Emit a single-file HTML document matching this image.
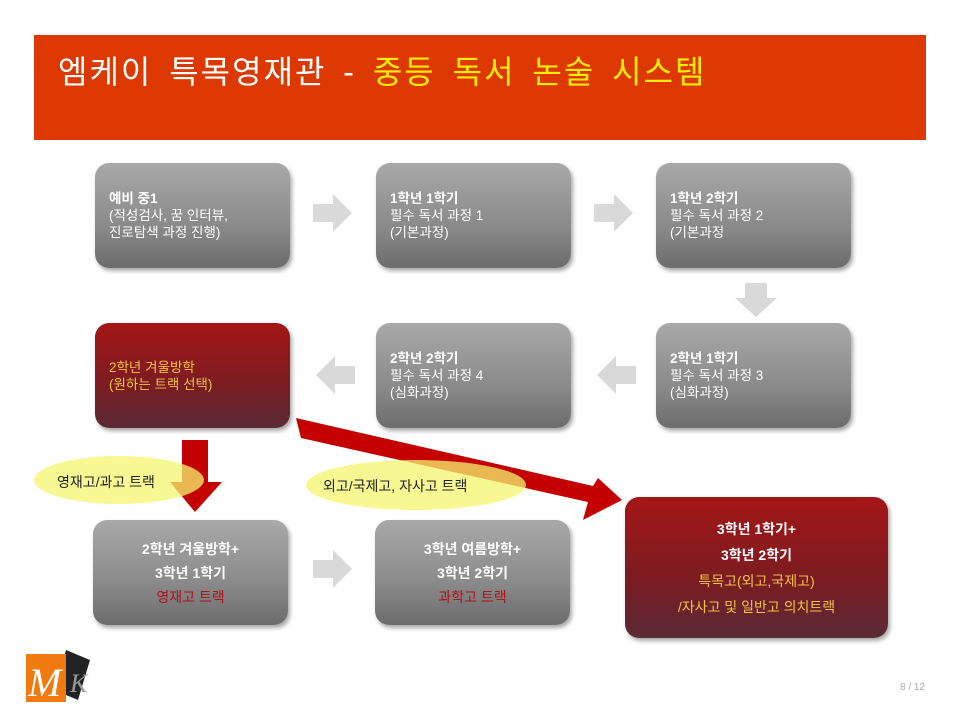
<!DOCTYPE html>
<html><head><meta charset="utf-8"><style>
body{margin:0;width:960px;height:720px;background:#fff;position:relative;overflow:hidden;font-family:"Liberation Sans","Noto Sans CJK KR","NanumGothic",sans-serif}
.t{position:absolute;left:34px;top:35px;width:892px;height:105px;background:#dc3800}
.t div{position:absolute;left:24px;top:12px;font-size:32px;letter-spacing:2px;word-spacing:6px;color:#fff;white-space:nowrap}
.b{position:absolute;width:195px;height:105px;border-radius:14px;background:linear-gradient(#a9a9a9,#8a8a8a 60%,#6c6c6c);box-shadow:2px 3px 4px rgba(0,0,0,.35);color:#fff;font-size:13.5px;line-height:17px;box-sizing:border-box;padding:0 14px;display:flex;flex-direction:column;justify-content:center}
.r{background:linear-gradient(#a51616,#7a1c22 60%,#5a2a35)}
.c{text-align:center;font-weight:bold;line-height:24px;font-size:14px}
.y{color:#f5c242}
.rd{color:#b0101a;font-weight:normal}
.e{position:absolute;border-radius:50%;background:rgba(245,245,110,.75)}
.lab{position:absolute;font-size:14px;color:#222;white-space:nowrap}
</style></head><body>
<div class="t"><div>엠케이 특목영재관 - <span style="color:#ffee00">중등 독서 논술 시스템</span></div></div>

<div class="b" style="left:95px;top:163px"><b>예비 중1</b>(적성검사, 꿈 인터뷰,<br>진로탐색 과정 진행)</div>
<div class="b" style="left:376px;top:163px"><b>1학년 1학기</b>필수 독서 과정 1<br>(기본과정)</div>
<div class="b" style="left:656px;top:163px"><b>1학년 2학기</b>필수 독서 과정 2<br>(기본과정</div>
<div class="b r" style="left:95px;top:323px"><span class="y">2학년 겨울방학<br>(원하는 트랙 선택)</span></div>
<div class="b" style="left:376px;top:323px"><b>2학년 2학기</b>필수 독서 과정 4<br>(심화과정)</div>
<div class="b" style="left:656px;top:323px"><b>2학년 1학기</b>필수 독서 과정 3<br>(심화과정)</div>
<div class="b c" style="left:93px;top:520px">2학년 겨울방학+<br>3학년 1학기<br><span class="rd">영재고 트랙</span></div>
<div class="b c" style="left:375px;top:520px">3학년 여름방학+<br>3학년 2학기<br><span class="rd">과학고 트랙</span></div>
<div class="b r c" style="left:625px;top:497px;width:263px;height:141px;line-height:26px"><span>3학년 1학기+<br>3학년 2학기</span><span class="y" style="font-weight:normal">특목고(외고,국제고)<br>/자사고 및 일반고 의치트랙</span></div>

<svg width="960" height="720" style="position:absolute;left:0;top:0">
<g fill="#d9d9d9">
<polygon points="313,204 333,204 333,194 352,213 333,232 333,222 313,222"/>
<polygon points="594,204 614,204 614,194 633,213 614,232 614,222 594,222"/>
<polygon points="745,283 767,283 767,298 777,298 756,317 735,298 745,298"/>
<polygon points="355,366 335,366 335,356 316,375 335,394 335,384 355,384"/>
<polygon points="636,366 616,366 616,356 597,375 616,394 616,384 636,384"/>
<polygon points="313,560 333,560 333,550 352,569 333,588 333,578 313,578"/>
</g>
<g fill="#c40000">
<polygon points="182,440 208,440 208,482 222,482 195,512 170,482 182,482"/>
<polygon points="296,418 301,438 588,502 583,520 622,500 598,478 593,486"/>
</g>
</svg>
<div class="e" style="left:34px;top:456px;width:170px;height:48px"></div>
<div class="e" style="left:306px;top:460px;width:220px;height:50px"></div>
<div class="lab" style="left:57px;top:472px">영재고/과고 트랙</div>
<div class="lab" style="left:323px;top:476px">외고/국제고, 자사고 트랙</div>

<svg width="80" height="64" style="position:absolute;left:26px;top:644px">
<polygon points="40,6 64,16 52,56 28,46" fill="#222"/>
<rect x="0" y="10" width="40" height="48" fill="#f07a10"/>
<text x="2" y="52" font-family="Liberation Serif" font-style="italic" font-size="40" fill="#fff">M</text>
<text x="44" y="48" font-family="Liberation Serif" font-style="italic" font-size="26" fill="#999">K</text>
</svg>
<div style="position:absolute;left:900px;top:682px;font-size:10px;color:#aaa">8 / 12</div>
</body></html>
